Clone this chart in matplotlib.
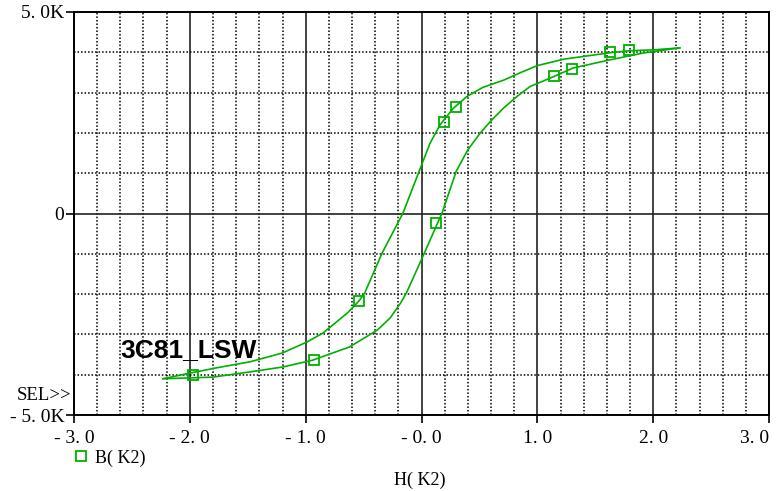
import matplotlib
matplotlib.use("Agg")
import matplotlib.pyplot as plt
from matplotlib.lines import Line2D
from matplotlib.ticker import FixedLocator, FixedFormatter, MultipleLocator

# ---- data (H in K, B) ----
# descending (upper/left) branch, from positive tip to negative tip
h_down = [2.23, 2.00, 1.80, 1.63, 1.43, 1.23, 1.00, 0.85, 0.71, 0.53, 0.39, 0.275, 0.16,
          0.073, -0.02, -0.16, -0.34, -0.49, -0.54, -0.64, -0.85, -0.99, -1.20, -1.48,
          -1.77, -2.00, -2.23]
b_down = [4110, 4060, 4040, 3990, 3910, 3830, 3670, 3490, 3310, 3130, 2900, 2610, 2200,
          1740, 1050, 10, -980, -1970, -2170, -2470, -2965, -3190, -3460, -3680,
          -3830, -3960, -4100]
# ascending (lower/right) branch, from negative tip to positive tip
h_up = [-2.23, -1.80, -1.48, -1.20, -0.94, -0.62, -0.38, -0.27, -0.18, -0.13, 0.025, 0.177,
        0.30, 0.40, 0.505, 0.606, 0.706, 0.822, 0.937, 1.136, 1.308, 1.623, 1.909, 2.23]
b_up = [-4100, -4060, -3930, -3810, -3640, -3310, -2890, -2590, -2220, -1970, -980, 10,
        1050, 1580, 1990, 2320, 2610, 2900, 3150, 3390, 3610, 3810, 3980, 4110]
# marker positions
h_mark = [-1.97, -0.93, -0.54, 0.125, 0.19, 0.30, 1.14, 1.30, 1.63, 1.79]
b_mark = [-4000, -3640, -2170, -240, 2260, 2650, 3410, 3585, 4000, 4057]

x_ticks = [-3, -2, -1, 0, 1, 2, 3]
x_labels = ["- 3. 0", "- 2. 0", "- 1. 0", "- 0. 0", "1. 0", "2. 0", "3. 0"]
y_ticks = [-5000, 0, 5000]
y_labels = ["- 5. 0K", "0", "5. 0K"]

green = "#00b000"
serif = "Liberation Serif"

fig = plt.figure(figsize=(7.81, 4.91), dpi=100)
ax = fig.add_axes([74/781, 1-415/491, (769-74)/781, (415-12)/491])
ax.set_xlim(-3, 3)
ax.set_ylim(-5000, 5000)

ax.xaxis.set_major_locator(FixedLocator(x_ticks))
ax.xaxis.set_major_formatter(FixedFormatter(x_labels))
ax.xaxis.set_minor_locator(MultipleLocator(0.2))
ax.yaxis.set_major_locator(FixedLocator(y_ticks))
ax.yaxis.set_major_formatter(FixedFormatter(y_labels))
ax.yaxis.set_minor_locator(MultipleLocator(1000))

ax.grid(which="major", color="#222222", lw=1.2, ls="-")
ax.grid(which="minor", color="black", lw=1.1, ls=(0, (1, 1.3)))
ax.set_axisbelow(True)
ax.tick_params(which="minor", length=0)
ax.tick_params(which="major", length=6, width=1.2, color="black", direction="out",
               labelsize=14)
ax.tick_params(axis="x", pad=5)
ax.tick_params(axis="y", pad=1)
for lab in ax.get_xticklabels() + ax.get_yticklabels():
    lab.set_fontfamily(serif)
ax.get_xticklabels()[-1].set_horizontalalignment("right")
for s in ax.spines.values():
    s.set_linewidth(1.4)
    s.set_color("black")

ax.plot(h_down, b_down, color=green, lw=1.2, zorder=3)
ax.plot(h_up, b_up, color=green, lw=1.2, zorder=3)
ax.plot(h_mark, b_mark, ls="none", marker="s", ms=7, mfc="none", mec=green, mew=1.3, zorder=4)

ax.text(-2.6, -3560, "3C81_LSW", fontsize=19, fontweight="bold", family="Liberation Sans",
        ha="left", va="baseline", zorder=5)

fig.text(17/781, 1-395/491, "SEL>>", fontsize=13.5, family=serif, ha="left", va="center")
fig.text(420/781, 1-480/491, "H( K2)", fontsize=13, family=serif, ha="center", va="center")

h = Line2D([], [], ls="none", marker="s", ms=7, mfc="none", mec=green, mew=1.3)
fig.legend(handles=[h], labels=["B( K2)"], loc="center left",
           bbox_to_anchor=(72/781, 1-458/491), frameon=False, handletextpad=0.3,
           handlelength=1.0, prop={"family": serif, "size": 13}, borderpad=0, borderaxespad=0)

fig.savefig("out.png", dpi=100)
